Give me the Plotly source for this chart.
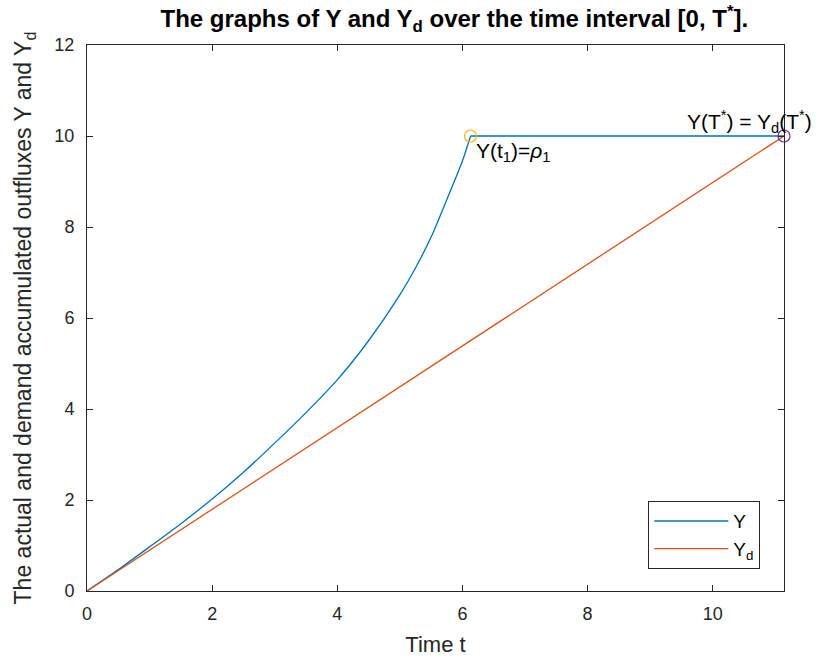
import plotly.graph_objects as go

# ---- data ----
T_STAR = 11.14
T1 = 6.13
RHO1 = 10.0

t_curve = [0, 0.5, 1.0, 1.5, 2.0, 2.5, 3.0, 3.5, 4.0, 4.5, 5.0, 5.25, 5.5, 5.75, 6.0, 6.13]
y_curve = [0, 0.47, 0.97, 1.48, 2.02, 2.61, 3.25, 3.92, 4.64, 5.50, 6.51, 7.10, 7.78, 8.60, 9.45, 10.0]

t_flat = [T1, T_STAR]
y_flat = [RHO1, RHO1]

t_demand = [0, T_STAR]
y_demand = [0, 10.0]

x_ticks = [0, 2, 4, 6, 8, 10]
y_ticks = [0, 2, 4, 6, 8, 10, 12]

BLUE = "#0072BD"
ORANGE = "#D95319"
YELLOW = "#EDB120"
PURPLE = "#7E2F8E"
AX = "#262626"
FONT = "Liberation Sans, Arial, sans-serif"

fig = go.Figure()
fig.add_trace(go.Scatter(x=t_curve, y=y_curve, mode="lines", name="Y",
                         line=dict(color=BLUE, width=1.3, shape="spline", smoothing=0.8),
                         legendgroup="Y"))
fig.add_trace(go.Scatter(x=t_flat, y=y_flat, mode="lines", name="Y",
                         line=dict(color=BLUE, width=1.3), legendgroup="Y",
                         showlegend=False))
fig.add_trace(go.Scatter(x=t_demand, y=y_demand, mode="lines", name="Y<sub>d</sub>",
                         line=dict(color=ORANGE, width=1.3)))
fig.add_trace(go.Scatter(x=[T1], y=[RHO1], mode="markers", showlegend=False,
                         marker=dict(symbol="circle-open", size=12, color=YELLOW,
                                     line=dict(color=YELLOW, width=1.2))))
fig.add_trace(go.Scatter(x=[T_STAR], y=[10.0], mode="markers", showlegend=False, cliponaxis=False,
                         marker=dict(symbol="circle-open", size=12, color=PURPLE,
                                     line=dict(color=PURPLE, width=1.2))))

fig.add_annotation(x=T1 + 0.05, y=9.65, xref="x", yref="y", xanchor="left", yanchor="middle",
                   text="Y(t<sub>1</sub>)=<i>ρ</i><sub>1</sub>", showarrow=False,
                   font=dict(family=FONT, size=21, color="black"))
fig.add_annotation(x=9.55, y=10.32, xref="x", yref="y", xanchor="left", yanchor="middle",
                   text="Y(T<sup>*</sup>) = Y<sub>d</sub>(T<sup>*</sup>)", showarrow=False,
                   font=dict(family=FONT, size=21, color="black"))

axis_common = dict(showline=True, linecolor=AX, linewidth=1, mirror="ticks",
                   ticks="inside", ticklen=6, tickcolor=AX, tickwidth=1,
                   showgrid=False, zeroline=False, automargin=False,
                   tickfont=dict(family=FONT, size=18, color=AX))

fig.update_xaxes(range=[0, T_STAR], tickvals=x_ticks, ticktext=[str(v) for v in x_ticks],
                 ticklabelstandoff=6,
                 title=dict(text="Time t", font=dict(family=FONT, size=22, color=AX), standoff=14),
                 **axis_common)
fig.update_yaxes(range=[0, 12], tickvals=y_ticks, ticktext=[str(v) for v in y_ticks],
                 ticklabelstandoff=8,
                 title=dict(text="The actual and demand accumulated outfluxes Y and Y<sub>d</sub>",
                            font=dict(family=FONT, size=23, color=AX), standoff=16),
                 **axis_common)

fig.update_layout(
    width=822, height=662,
    margin=dict(l=87, r=38, t=45, b=71),
    paper_bgcolor="white", plot_bgcolor="white",
    title=dict(text="<b>The graphs of Y and Y<sub>d</sub> over the time interval [0, T<sup>*</sup>].</b>",
               x=0.527, xanchor="center", xref="paper", y=0.972, yanchor="middle",
               font=dict(family=FONT, size=24, color="black")),
    legend=dict(x=0.966, y=0.04, xanchor="right", yanchor="bottom",
                bgcolor="white", bordercolor=AX, borderwidth=1,
                font=dict(family=FONT, size=19, color="black"),
                tracegroupgap=0, itemwidth=74),
    showlegend=True,
)

fig.write_html("out.html")
